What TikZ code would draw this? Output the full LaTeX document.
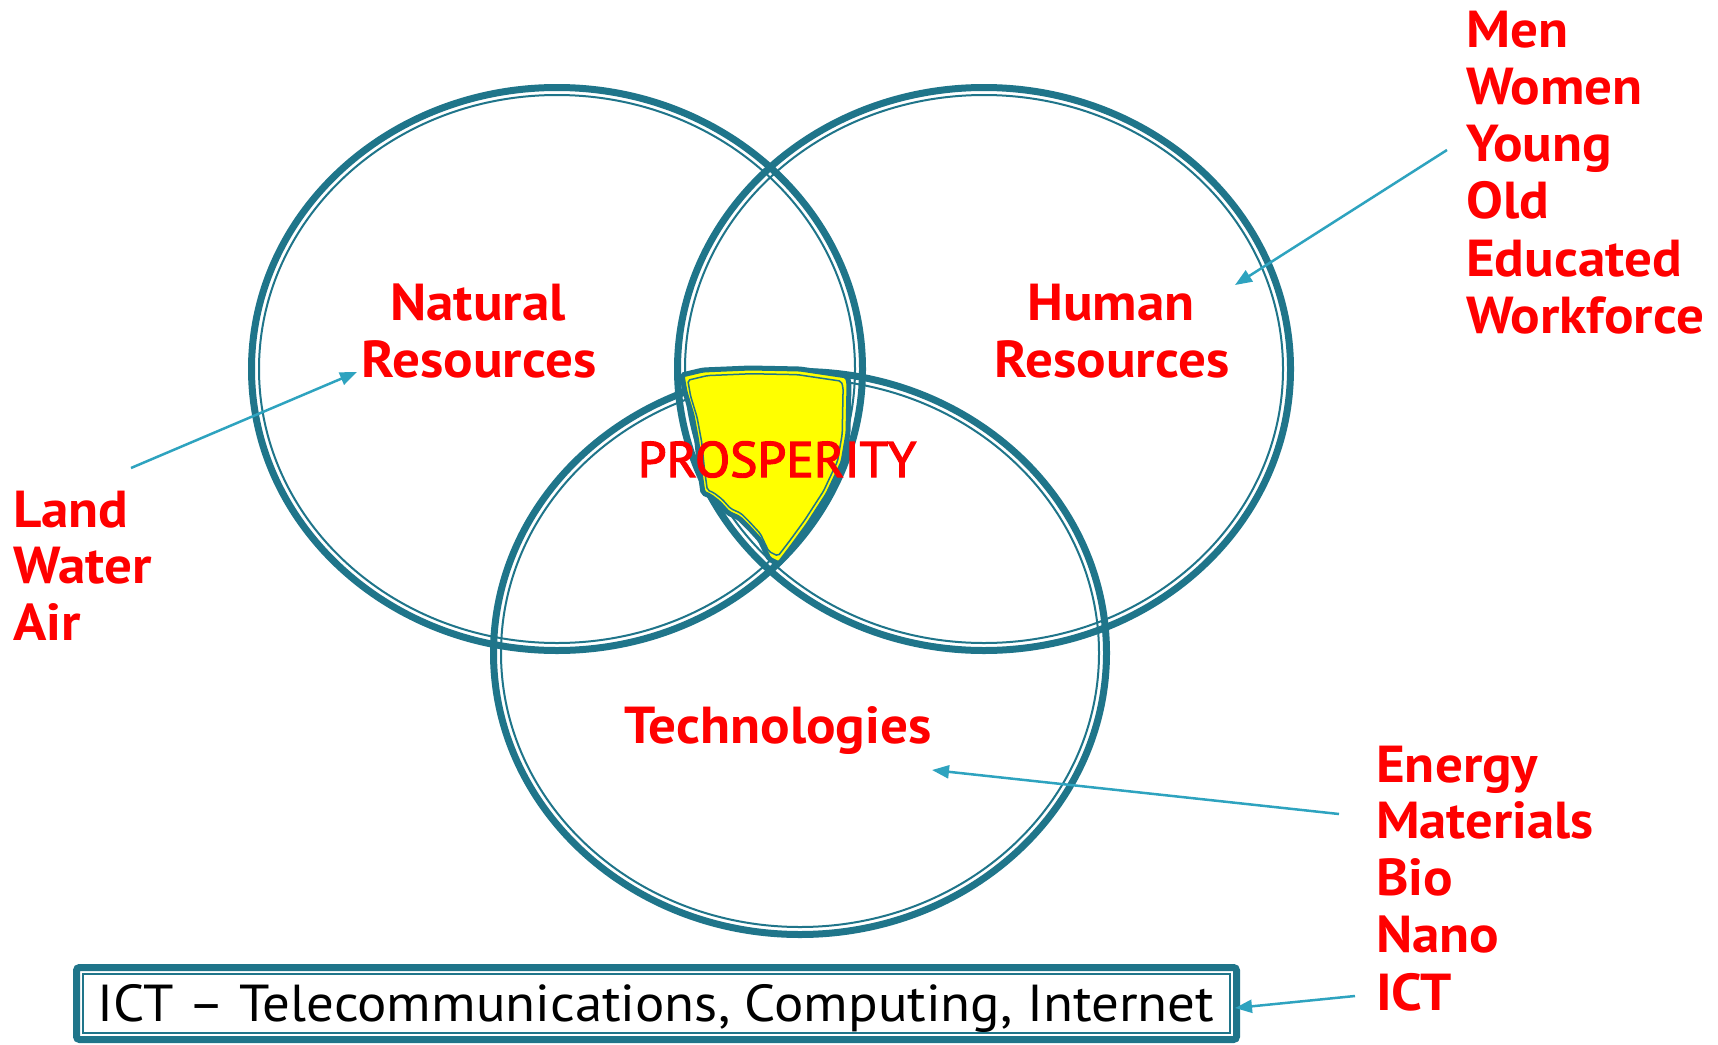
\documentclass[tikz,border=0pt]{standalone}
\usepackage{fontspec}
\usepackage{graphicx}
\setmainfont{PT Sans}
\newfontfamily\prosfont[FakeBold=2.5]{PT Sans}
\usetikzlibrary{arrows.meta}
\definecolor{ringteal}{HTML}{1F758A}
\definecolor{arrowblue}{HTML}{2EA3BF}
\definecolor{lblred}{HTML}{FF0000}
\definecolor{shieldyellow}{HTML}{FFFF00}
\newcommand{\wide}[1]{\scalebox{1.06}[1]{#1}}
\begin{document}
\begin{tikzpicture}[x=1pt,y=-1pt,
  ring/.style={draw=ringteal, line width=7pt},
  ringin/.style={draw=ringteal, line width=2pt},
  lbl/.style={text=lblred, font=\bfseries\fontsize{52}{57}\selectfont, inner sep=0pt, anchor=base west},
  lblc/.style={lbl, anchor=base},
  pointer/.style={draw=arrowblue, line width=2.5pt, -{Triangle[length=17pt,width=13pt]}},
  ictbox/.style={draw=ringteal, line width=7pt, rounded corners=3pt},
  ictboxin/.style={draw=ringteal, line width=2pt}
]
\useasboundingbox[fill=white] (0,0) rectangle (1718,1044);

% rings
\draw[ring]   (557,369) ellipse [x radius=305.5pt, y radius=281.5pt];
\draw[ringin] (557,369) ellipse [x radius=298pt, y radius=274pt];
\draw[ring]   (984,369) ellipse [x radius=306.5pt, y radius=281.5pt];
\draw[ringin] (984,369) ellipse [x radius=299pt, y radius=274pt];
\draw[ring]   (800,653) ellipse [x radius=306.5pt, y radius=281.5pt];
\draw[ringin] (800,653) ellipse [x radius=299pt, y radius=274pt];

% prosperity shield
\def\shieldpath{(682,375) -- (703,370) -- (750,368) -- (800,369) -- (847,376) -- (849,383) -- (848,433) -- (843,462) -- (828,494) -- (808,525) -- (792,547) -- (779,564) -- (769,559) -- (760,540) -- (749,528) -- (739,518) -- (728,513) -- (719,503) -- (710,496) -- (703,493) -- (700,472) -- (697,442) -- (692,415) -- (685,392) -- cycle}
\fill[shieldyellow, rounded corners=2pt] \shieldpath;
\draw[draw=ringteal, line width=5pt, rounded corners=2pt] \shieldpath;
\begin{scope}[scale around={0.93:(765,450)}]
\draw[draw=ringteal, line width=1.5pt, rounded corners=2pt] \shieldpath;
\end{scope}

% circle labels
\node[lblc] (nat1) at (478,320) {\wide{Natural}};
\node[lblc] (nat2) at (479,377) {\wide{Resources}};
\node[lblc] (hum1) at (1111,320) {\wide{Human}};
\node[lblc] (hum2) at (1112,377) {\wide{Resources}};
\node[lblc, font=\prosfont\fontsize{50}{57}\selectfont] (pros) at (777,477) {\scalebox{1.03}[1]{PROSPERITY}};
\node[lblc] (tech) at (778,743) {\wide{Technologies}};

% left list
\node[lbl] (land)  at (13,527) {\wide{Land}};
\node[lbl] (water) at (13,583) {\wide{Water}};
\node[lbl] (air)   at (13,640) {\wide{Air}};

% top right list
\node[lbl] (men)   at (1466,47)  {\wide{Men}};
\node[lbl] (women) at (1466,104) {\wide{Women}};
\node[lbl] (young) at (1466,161) {\wide{Young}};
\node[lbl] (old)   at (1466,218) {\wide{Old}};
\node[lbl] (educ)  at (1466,276) {\wide{Educated}};
\node[lbl] (work)  at (1466,333) {\wide{Workforce}};

% bottom right list
\node[lbl] (energy) at (1376,782)  {\wide{Energy}};
\node[lbl] (mater)  at (1376,838)  {\scalebox{1.05}[1]{Materials}};
\node[lbl] (bio)    at (1376,895)  {\wide{Bio}};
\node[lbl] (nano)   at (1376,952)  {\wide{Nano}};
\node[lbl] (ict)    at (1376,1010) {\wide{ICT}};

% ICT box
\draw[ictbox] (76.5,967.5) rectangle (1236.5,1039.5);
\draw[ictboxin] (83,974) rectangle (1230,1033);
\node[inner sep=0pt, anchor=base, font=\fontsize{52}{57}\selectfont] (icttext) at (656,1021) {\scalebox{1.055}[1]{ICT -- Telecommunications, Computing, Internet}};

% pointers
\coordinate (landfrom) at (131,468);
\coordinate (natto)    at (357,372);
\coordinate (menfrom)  at (1447,150);
\coordinate (humto)    at (1235,285);
\coordinate (engfrom)  at (1339,814);
\coordinate (techto)   at (932,770);
\coordinate (ictfrom)  at (1355,996);
\coordinate (boxto)    at (1235,1008);
\draw[pointer] (landfrom) -- (natto);
\draw[pointer] (menfrom) -- (humto);
\draw[pointer] (engfrom) -- (techto);
\draw[pointer] (ictfrom) -- (boxto);
\end{tikzpicture}
\end{document}
